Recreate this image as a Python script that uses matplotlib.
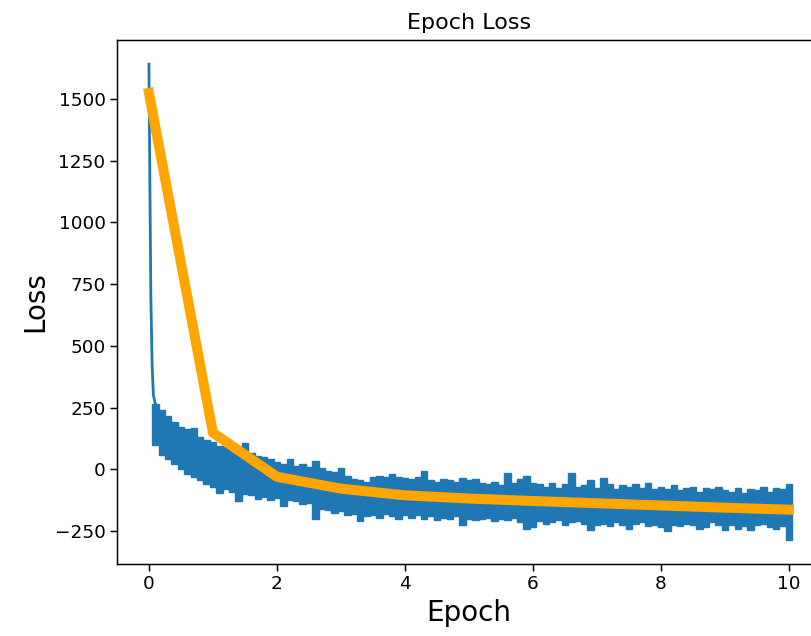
import numpy as np
import matplotlib
matplotlib.use("Agg")
import matplotlib.pyplot as plt

# epoch-mean loss (orange)
epochs = [0, 1, 2, 3, 4, 5, 6, 7, 8, 9, 10]
epoch_loss = [1524, 148, -30, -78, -105, -118, -128, -137, -146, -155, -163]

# first few iterations: the steep drop at the start of training
head_x = [0.0, 0.015, 0.03, 0.05, 0.07, 0.1]
head_loss = [1640, 1150, 700, 420, 300, 265]

# per-iteration loss, read as upper / lower envelope every 0.1 epoch (0.1 .. 10.0)
batch_x = [round(0.1 * i, 1) for i in range(1, 101)]
batch_hi = [
    265, 240, 215, 190, 170, 165, 168, 130, 120, 110,
    95, 90, 80, 75, 105, 65, 55, 50, 40, 30,
    20, 40, 15, 20, 10, 35, 5, -5, -10, 5,
    -25, -40, -45, -50, -30, -25, -30, -20, -30, -35,
    -40, -30, -5, -45, -50, -40, -45, -50, -35, -45,
    -40, -55, -60, -50, -65, -15, -55, -40, -25, -55,
    -60, -70, -55, -75, -60, -15, -70, -65, -45, -75,
    -35, -60, -80, -65, -70, -60, -75, -55, -80, -70,
    -80, -65, -85, -75, -70, -90, -75, -80, -70, -85,
    -90, -75, -95, -80, -85, -70, -90, -75, -80, -60,
]
batch_lo = [
    100, 60, 40, 20, 0, -20, -30, -45, -60, -70,
    -95, -80, -90, -130, -100, -105, -120, -110, -125, -115,
    -150, -125, -130, -140, -135, -200, -160, -165, -175, -170,
    -185, -180, -210, -190, -185, -195, -180, -190, -200, -185,
    -195, -185, -200, -190, -205, -195, -200, -190, -225, -200,
    -205, -200, -195, -210, -200, -205, -195, -215, -240, -235,
    -210, -220, -215, -205, -225, -215, -210, -220, -245, -225,
    -220, -230, -215, -225, -240, -220, -215, -230, -225, -235,
    -250, -225, -230, -220, -225, -240, -235, -215, -225, -245,
    -225, -240, -230, -245, -225, -220, -235, -240, -230, -285,
]

fig = plt.figure(figsize=(8.12, 6.36), dpi=100)
# the saved picture is cut just before the right spine
ax = fig.add_axes([0.144, 0.1132, 0.867, 0.824])

blue = "#1f77b4"
ax.plot(head_x, head_loss, color=blue, linewidth=2)
heights = [h - l for h, l in zip(batch_hi, batch_lo)]
ax.bar(batch_x, heights, bottom=batch_lo, width=0.1, color=blue,
       edgecolor=blue, linewidth=1.0)
ax.plot(epochs, epoch_loss, color="orange", linewidth=7.2)

ax.set_xlim(-0.5, 10.5)
ax.set_ylim(-383, 1738)
ax.set_xticks([0, 2, 4, 6, 8, 10])
ax.set_yticks([-250, 0, 250, 500, 750, 1000, 1250, 1500])
ax.tick_params(labelsize=13.3, length=4.7, width=1.07)
for s in ax.spines.values():
    s.set_linewidth(1.07)

ax.set_title("Epoch Loss", fontsize=16, pad=8)
ax.set_xlabel("Epoch", fontsize=20)
ax.set_ylabel("Loss", fontsize=20)

fig.savefig("out.png", dpi=100)
